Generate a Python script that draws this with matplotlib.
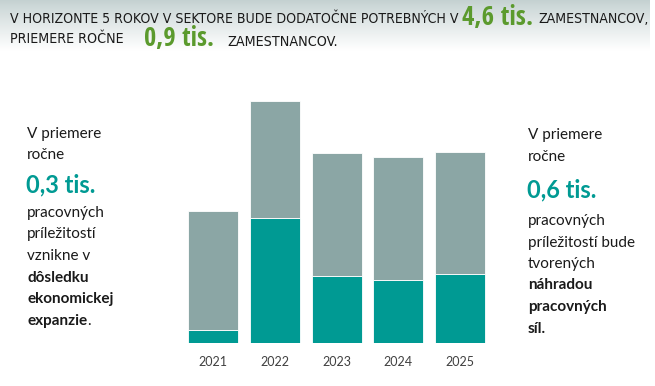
import matplotlib
matplotlib.use("Agg")
import matplotlib.pyplot as plt
from matplotlib import font_manager as fm
import numpy as np

years = ["2021", "2022", "2023", "2024", "2025"]
expansion = [0.065, 0.61, 0.33, 0.31, 0.34]      # tis. (teal, bottom)
replacement = [0.58, 0.575, 0.60, 0.60, 0.595]   # tis. (gray, top)

TEAL = "#009a93"
GRAY = "#8ba6a5"
GREEN = "#5b9a2d"
DARK = "#1a1a1a"

W, H = 655, 386
fig = plt.figure(figsize=(W / 100, H / 100), dpi=100)

# look for a narrow / condensed sans face for the header
def pick_condensed(bold):
    prefs = ["Liberation Sans Narrow", "Open Sans", "Noto Sans", "DejaVu Sans", "Roboto", "Lato"]
    cands = []
    for f in fm.fontManager.ttflist:
        fn = f.fname.lower()
        if not ("narrow" in fn or "condensed" in fn or "narrow" in f.name.lower() or "condensed" in f.name.lower()):
            continue
        if "semicondensed" in fn or "extracondensed" in fn or "ultracondensed" in fn:
            continue
        if "italic" in fn or "oblique" in fn or "light" in fn or "thin" in fn or "black" in fn or "medium" in fn or "semibold" in fn or "extrabold" in fn:
            continue
        isb = "bold" in fn
        if isb != bold:
            continue
        rank = len(prefs)
        for i, p in enumerate(prefs):
            if f.name.lower().startswith(p.lower()):
                rank = i
                break
        cands.append((rank, f.fname))
    if cands:
        cands.sort()
        return fm.FontProperties(fname=cands[0][1])
    return None

HREG = pick_condensed(False)
HBOLD = pick_condensed(True)

def fx(x):
    return x / W

def fy(y):
    return 1 - y / H

# header gradient band
gax = fig.add_axes([0, fy(58), fx(650), 58 / H], zorder=0)
grad = np.linspace(0, 1, 100).reshape(-1, 1)
top = np.array([0.77, 0.82, 0.82])
bot = np.array([1.0, 1.0, 1.0])
t = np.clip(grad * 1.15, 0, 1) ** 0.9
img = top[None, None, :] * (1 - t[..., None]) + bot[None, None, :] * t[..., None]
gax.imshow(img, aspect="auto", extent=[0, 1, 0, 1])
gax.axis("off")

# bar chart
ax = fig.add_axes([fx(182.5), fy(343), fx(308.4), 245 / H], zorder=1)
x = np.arange(len(years))
ax.bar(x, expansion, width=0.81, color=TEAL, edgecolor="white", linewidth=0.6)
ax.bar(x, replacement, width=0.81, bottom=expansion, color=GRAY, edgecolor="white", linewidth=0.6)
ax.set_xlim(-0.5, 4.5)
ax.set_ylim(0, 1.2)
ax.set_xticks(x)
ax.set_xticklabels(years, fontsize=9, color="#404040", family="Lato")
ax.tick_params(axis="x", length=0, pad=9)
ax.set_yticks([])
for s in ax.spines.values():
    s.set_visible(False)
ax.patch.set_alpha(0)

# overlay for text
ov = fig.add_axes([0, 0, 1, 1], zorder=5)
ov.set_xlim(0, W)
ov.set_ylim(H, 0)
ov.axis("off")

def T(xp, yp, s, **kw):
    kw.setdefault("family", "Lato")
    kw.setdefault("color", DARK)
    return ov.text(xp, yp, s, va="baseline", ha="left", **kw)

renderer = fig.canvas.get_renderer()

def H_text(xp, yp, s, target_w, size, bold=False, color=DARK):
    fp = HBOLD if bold else HREG
    if fp is not None:
        fp = fp.copy()
        fp.set_size(size)
        txt = ov.text(xp, yp, s, va="baseline", ha="left", fontproperties=fp, color=color)
    else:
        txt = ov.text(xp, yp, s, va="baseline", ha="left", family="Lato", fontsize=size,
                      weight="bold" if bold else "normal", color=color)
    w = txt.get_window_extent(renderer).width
    if w > 0:
        txt.set_fontsize(size * target_w / w)
    return txt

# header
H_text(10, 23, "V HORIZONTE 5 ROKOV V SEKTORE BUDE DODATOČNE POTREBNÝCH V", 448, 10.5)
H_text(462, 25, "4,6 tis.", 71, 18, bold=True, color=GREEN)
H_text(538, 23, "ZAMESTNANCOV,", 111, 10.5)
H_text(10, 43, "PRIEMERE ROČNE", 113, 10.5)
H_text(144, 46, "0,9 tis.", 70, 18, bold=True, color=GREEN)
H_text(227, 46, "ZAMESTNANCOV.", 111, 10.5)

# left block
fs = 11
T(27, 138, "V priemere", fontsize=fs)
T(27, 159, "ročne", fontsize=fs)
T(26, 192, "0,3 tis.", fontsize=17, color=TEAL, weight="bold")
T(27, 217, "pracovných", fontsize=fs)
T(27, 238, "príležitostí", fontsize=fs)
T(27, 260, "vznikne v", fontsize=fs)
T(27, 282, "dôsledku", fontsize=fs, weight="bold")
T(27, 303, "ekonomickej", fontsize=fs, weight="bold")
e = T(27, 325, "expanzie", fontsize=fs, weight="bold")
ov.annotate(".", xy=(1, 0), xycoords=e, va="bottom", ha="left",
            fontsize=fs, family="Lato", color=DARK)

# right block
T(528, 139, "V priemere", fontsize=fs)
T(528, 161, "ročne", fontsize=fs)
T(527, 197, "0,6 tis.", fontsize=17, color=TEAL, weight="bold")
T(528, 225, "pracovných", fontsize=fs)
T(528, 247, "príležitostí bude", fontsize=fs)
T(528, 268, "tvorených", fontsize=fs)
T(528, 289, "náhradou", fontsize=fs, weight="bold")
T(528, 311, "pracovných", fontsize=fs, weight="bold")
T(528, 333, "síl.", fontsize=fs, weight="bold")

fig.savefig("out.png", dpi=100)
